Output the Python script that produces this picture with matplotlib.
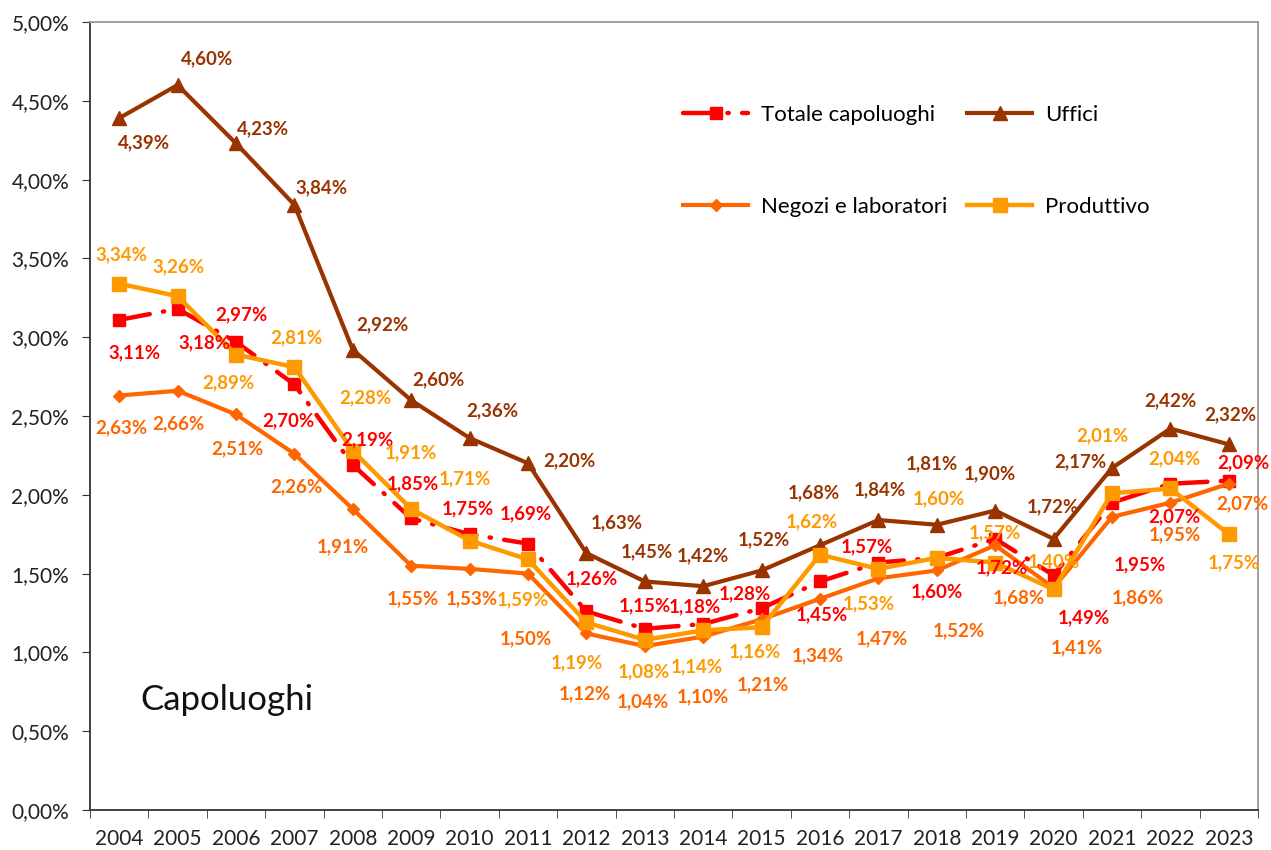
import matplotlib.pyplot as plt
from matplotlib.ticker import FuncFormatter

plt.rcParams['font.family'] = ['Lato', 'DejaVu Sans']

years = [str(y) for y in range(2004, 2024)]
totale = [3.11, 3.18, 2.97, 2.70, 2.19, 1.85, 1.75, 1.69, 1.26, 1.15,
          1.18, 1.28, 1.45, 1.57, 1.60, 1.72, 1.49, 1.95, 2.07, 2.09]
uffici = [4.39, 4.60, 4.23, 3.84, 2.92, 2.60, 2.36, 2.20, 1.63, 1.45,
          1.42, 1.52, 1.68, 1.84, 1.81, 1.90, 1.72, 2.17, 2.42, 2.32]
negozi = [2.63, 2.66, 2.51, 2.26, 1.91, 1.55, 1.53, 1.50, 1.12, 1.04,
          1.10, 1.21, 1.34, 1.47, 1.52, 1.68, 1.41, 1.86, 1.95, 2.07]
produttivo = [3.34, 3.26, 2.89, 2.81, 2.28, 1.91, 1.71, 1.59, 1.19, 1.08,
              1.14, 1.16, 1.62, 1.53, 1.60, 1.57, 1.40, 2.01, 2.04, 1.75]

# label offsets in pixels (dx, dy), placed like the Excel data labels
off_totale = [(15, -33), (27, -34), (5, 27), (-6, -36), (15, 25), (2, 35), (-2, 25),
              (-2, 30), (5, 33), (0, 23), (-8, 17), (-17, 15), (2, -33), (-12, 16),
              (0, -34), (7, -29), (30, -43), (28, -62), (4, -33), (15, 18)]
off_uffici = [(25, -25), (29, 26), (27, 15), (27, 17), (30, 25), (27, 20), (23, 27),
              (41, 3), (30, 30), (2, 30), (0, 30), (2, 31), (-6, 52), (1, 30),
              (-5, 61), (-5, 37), (-1, 32), (-32, 6), (0, 28), (2, 30)]
off_negozi = [(2, -32), (1, -33), (1, -34), (2, -33), (-10, -38), (2, -33), (2, -30),
              (-2, -65), (-2, -60), (-2, -56), (0, -60), (1, -65), (-2, -57), (3, -60),
              (22, -60), (24, -53), (23, -60), (26, -81), (4, -32), (14, -20)]
off_produttivo = [(2, 29), (1, 29), (-8, -28), (2, 29), (13, 53), (0, 56), (-5, 62),
                  (-5, -40), (-10, -40), (-1, -32), (-6, -36), (-7, -25), (-8, 33),
                  (-10, -35), (2, 59), (0, 30), (0, 28), (-10, 57), (4, 30), (5, -29)]

c_tot = '#FF0000'
c_uff = '#993300'
c_neg = '#FF6600'
c_pro = '#FF9900'

fig = plt.figure(figsize=(12.71, 8.5), dpi=100)
ax = fig.add_axes([90 / 1271, 40 / 850, 1168 / 1271, 788 / 850])

x = list(range(len(years)))
l_tot, = ax.plot(x, totale, color=c_tot, lw=3.2, linestyle=(0, (7, 3, 0.3, 3)),
                 dash_capstyle='round', marker='s', markersize=9,
                 label='Totale capoluoghi', zorder=3)
l_uff, = ax.plot(x, uffici, color=c_uff, lw=3, marker='^', markersize=10,
                 label='Uffici', zorder=4)
l_neg, = ax.plot(x, negozi, color=c_neg, lw=3, marker='D', markersize=6.5,
                 label='Negozi e laboratori', zorder=5)
l_pro, = ax.plot(x, produttivo, color=c_pro, lw=3.2, marker='s', markersize=9.5,
                 label='Produttivo', zorder=6)


def pct(v):
    return f"{v:.2f}%".replace('.', ',')


for vals, offs, col in [(totale, off_totale, c_tot), (uffici, off_uffici, c_uff),
                        (negozi, off_negozi, c_neg), (produttivo, off_produttivo, c_pro)]:
    for i, v in enumerate(vals):
        ax.annotate(pct(v), (i, v), xytext=(offs[i][0], offs[i][1]),
                    textcoords='offset pixels', ha='center', va='center',
                    fontsize=13.5, fontweight='bold', color=col, zorder=10)

ax.set_xlim(-0.5, len(years) - 0.5)
ax.set_ylim(0, 5)
ax.set_yticks([i * 0.5 for i in range(11)])
ax.yaxis.set_major_formatter(FuncFormatter(lambda v, p: pct(v)))
ax.set_xticks(x)
ax.set_xticklabels(years)
ax.set_xticks([i - 0.5 for i in range(len(years) + 1)], minor=True)
ax.tick_params(axis='x', which='major', length=0, labelsize=15, pad=14,
               labelcolor='#222222')
ax.tick_params(axis='x', which='minor', length=6, color='#333333')
ax.tick_params(axis='y', length=6, color='#333333', labelsize=15, pad=9,
               labelcolor='#222222')

for s in ['left', 'bottom']:
    ax.spines[s].set_color('#333333')
    ax.spines[s].set_linewidth(1.3)
for s in ['top', 'right']:
    ax.spines[s].set_color('#999999')
    ax.spines[s].set_linewidth(1.3)

ax.text(0.043, 0.14, 'Capoluoghi', transform=ax.transAxes, fontsize=25,
        ha='left', va='center', color='#111111')

ax.legend(handles=[l_tot, l_neg, l_uff, l_pro], ncol=2, frameon=False,
          loc='center left', bbox_to_anchor=(0.508, 0.824), fontsize=16,
          handlelength=2.9, labelspacing=3.25, columnspacing=0.9,
          handletextpad=0.6, borderpad=0, borderaxespad=0)

fig.savefig('out.png', dpi=100)
